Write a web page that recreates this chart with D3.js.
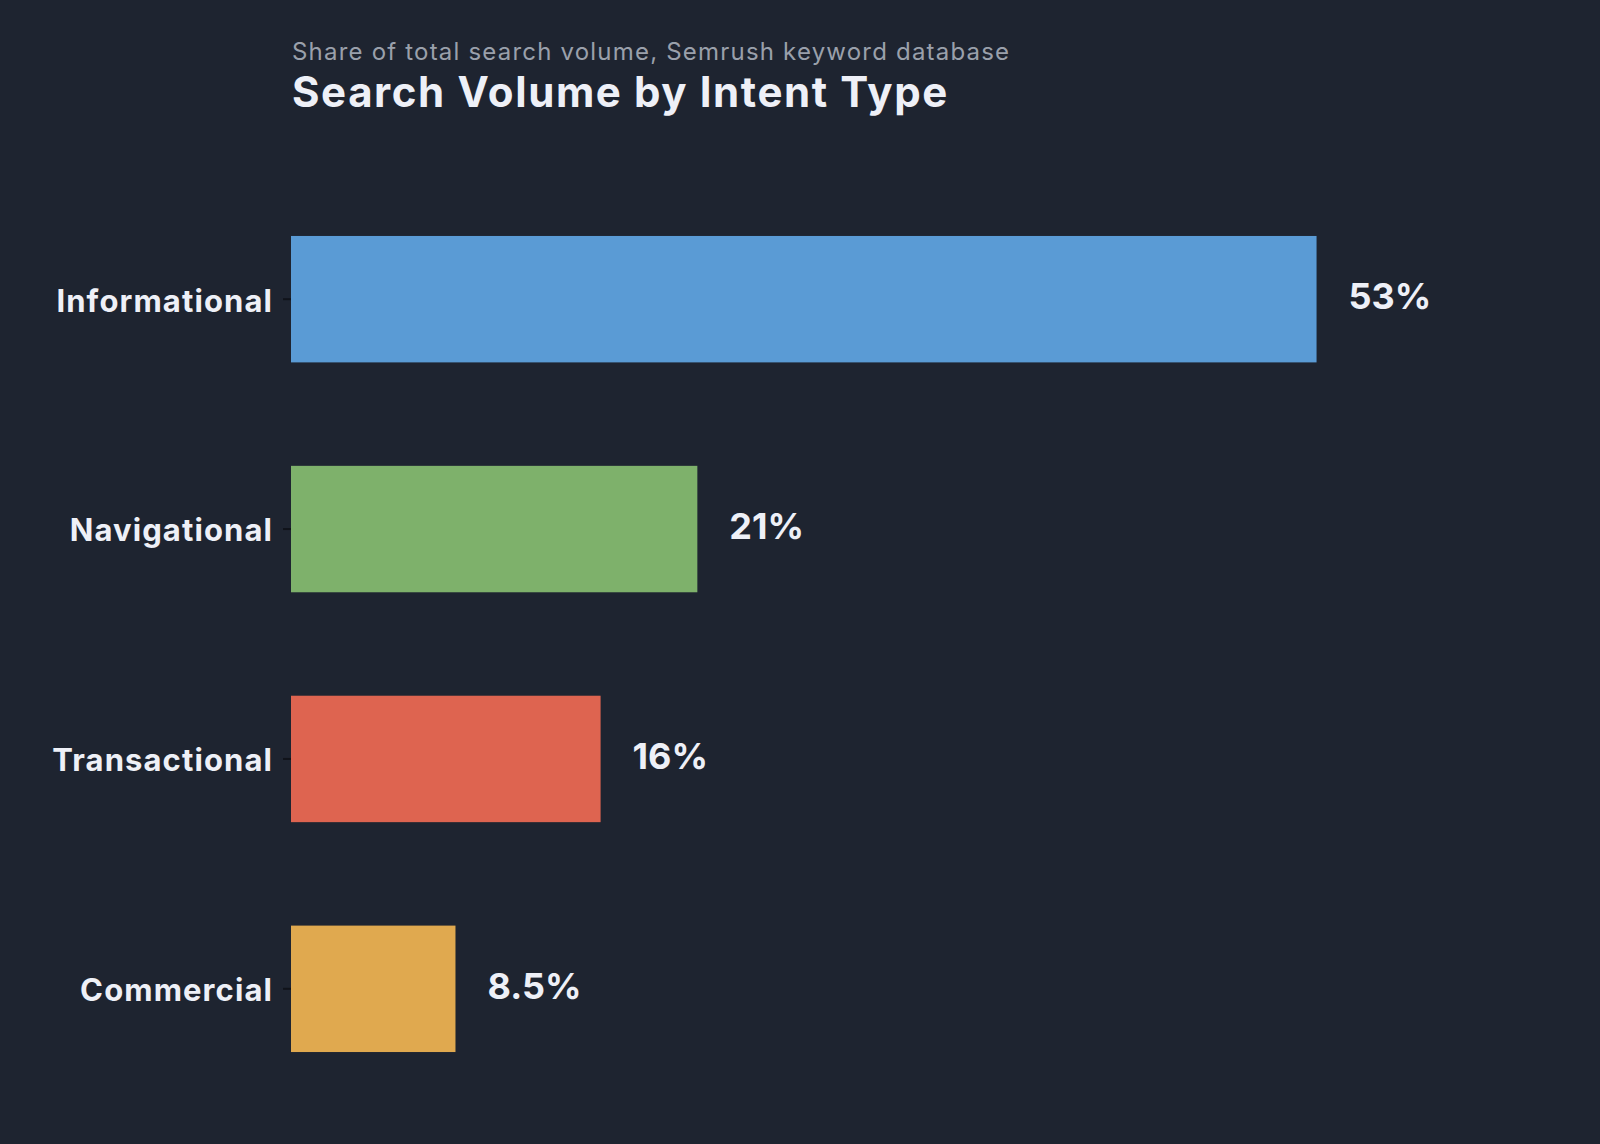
<!DOCTYPE html>
<html>
<head>
<meta charset="utf-8">
<script src="https://cdn.jsdelivr.net/npm/d3@7"></script>
<style>
  html, body { margin: 0; padding: 0; background: #1e2430; }
  svg { display: block; }
</style>
</head>
<body>
<div id="chart"></div>
<script>
// Chart data
var categories = ["Informational", "Navigational", "Transactional", "Commercial"];
var shares = [53, 21, 16, 8.5];
var valueLabels = ["53%", "21%", "16%", "8.5%"];
var barColors = ["#5a9bd5", "#7eb16b", "#de6450", "#e0a94f"];

var svgWidth = 1600;
var svgHeight = 1144;

var svg = d3.select("#chart")
    .append("svg")
    .attr("width", svgWidth)
    .attr("height", svgHeight);

svg.append("rect")
    .attr("width", svgWidth)
    .attr("height", svgHeight)
    .attr("fill", "#1e2430");

var fontFamily = "Inter, 'Noto Sans', sans-serif";

// Scales
var xScale = d3.scaleLinear()
    .domain([0, 60])
    .range([291, 1452]);

var yScale = d3.scaleBand()
    .domain(categories)
    .range([167, 1121])
    .paddingInner(0.45)
    .paddingOuter(0.3);

// Left axis with category names
var leftAxis = d3.axisLeft(yScale)
    .tickSize(8)
    .tickPadding(10);

var axisGroup = svg.append("g")
    .attr("transform", `translate(${xScale(0)}, 0)`)
    .call(leftAxis);

axisGroup.select(".domain").remove();
axisGroup.selectAll(".tick line")
    .attr("stroke", "#10131a")
    .attr("stroke-width", 2);
axisGroup.selectAll(".tick text")
    .attr("fill", "#eef0f7")
    .attr("dy", "0.4em")
    .style("font-family", fontFamily)
    .style("font-size", "31px")
    .style("font-weight", 700)
    .style("letter-spacing", "1.1px");

// Bars
svg.append("g")
    .selectAll("rect")
    .data(categories)
    .enter()
    .append("rect")
    .attr("x", xScale(0))
    .attr("y", d => yScale(d))
    .attr("width", (d, i) => xScale(shares[i]) - xScale(0))
    .attr("height", yScale.bandwidth())
    .attr("fill", (d, i) => barColors[i]);

// Value labels
svg.append("g")
    .selectAll("text")
    .data(categories)
    .enter()
    .append("text")
    .attr("x", (d, i) => xScale(shares[i]) + 32)
    .attr("y", d => yScale(d) + yScale.bandwidth() / 2 + 10)
    .attr("fill", "#eef0f7")
    .style("font-family", fontFamily)
    .style("font-size", "36px")
    .style("font-weight", 700)
    .text((d, i) => valueLabels[i]);

// Titles
svg.append("text")
    .attr("x", 292)
    .attr("y", 60)
    .attr("fill", "#9aa0ab")
    .style("font-family", fontFamily)
    .style("font-size", "24px")
    .style("letter-spacing", "1.2px")
    .text("Share of total search volume, Semrush keyword database");

svg.append("text")
    .attr("x", 292)
    .attr("y", 107)
    .attr("fill", "#eef0f7")
    .style("font-family", fontFamily)
    .style("font-size", "42px")
    .style("font-weight", 700)
    .style("letter-spacing", "1.6px")
    .text("Search Volume by Intent Type");
</script>
</body>
</html>
